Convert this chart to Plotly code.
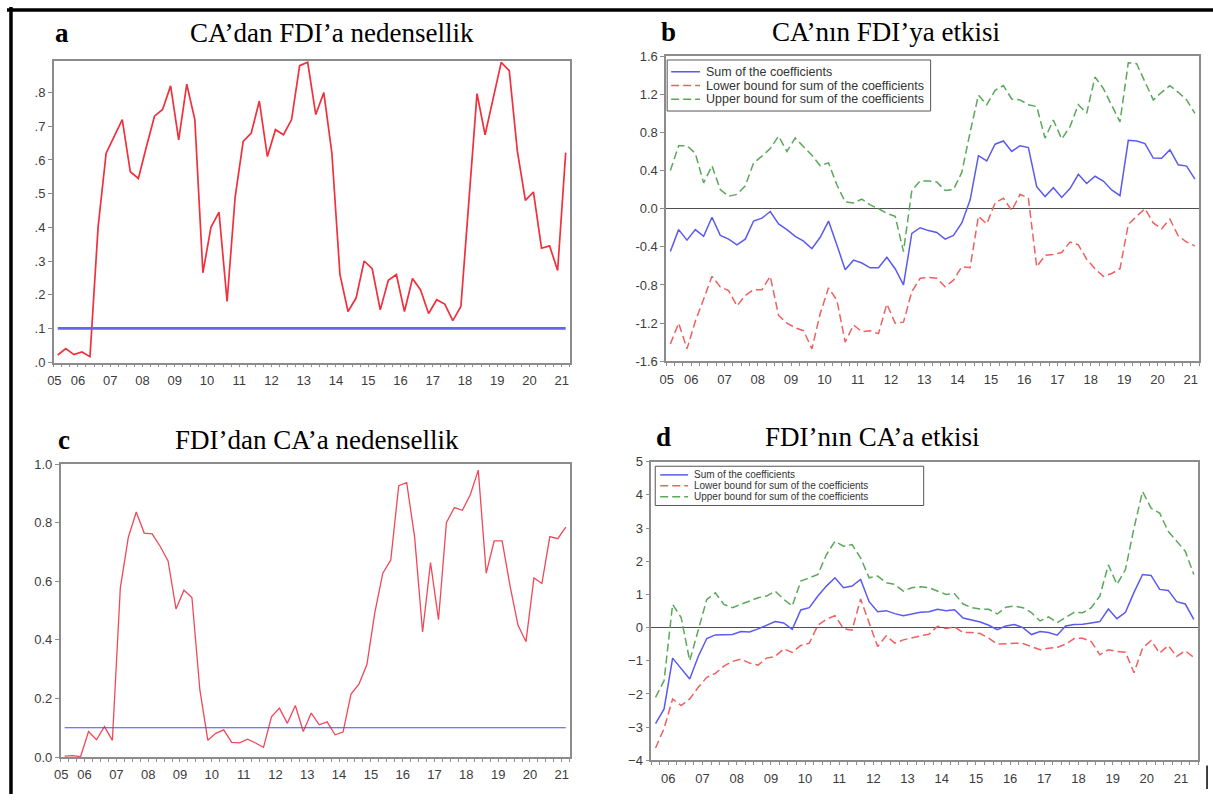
import plotly.graph_objects as go

W, H = 1213, 802

# ---------------- data ----------------
# quarterly periods: panels a, b, c cover 2005Q4-2021Q3, panel d covers 2006Q1-2021Q4
periods_abc = [f"{y}Q{q}" for y in range(2005, 2022) for q in range(1, 5)][3:67]
periods_d = [f"{y}Q{q}" for y in range(2006, 2022) for q in range(1, 5)]

# a: p-values, causality CA -> FDI
pval_ca_fdi = [0.021, 0.040, 0.022, 0.030, 0.016, 0.40, 0.62, 0.67, 0.72, 0.565,
               0.545, 0.64, 0.73, 0.75, 0.82, 0.66, 0.825, 0.72, 0.265, 0.40,
               0.445, 0.18, 0.49, 0.655, 0.68, 0.775, 0.61, 0.69, 0.675, 0.72,
               0.88, 0.89, 0.735, 0.80, 0.62, 0.26, 0.15, 0.19, 0.30, 0.277,
               0.155, 0.243, 0.26, 0.15, 0.248, 0.214, 0.144, 0.185, 0.172, 0.123,
               0.165, 0.48, 0.797, 0.675, 0.782, 0.89, 0.865, 0.627, 0.48, 0.505,
               0.338, 0.345, 0.272, 0.622]

# c: p-values, causality FDI -> CA
pval_fdi_ca = [0.003, 0.005, 0.001, 0.087, 0.059, 0.104, 0.057, 0.578, 0.75, 0.837,
               0.765, 0.762, 0.72, 0.67, 0.506, 0.57, 0.545, 0.229, 0.057, 0.081,
               0.093, 0.05, 0.048, 0.061, 0.048, 0.033, 0.137, 0.167, 0.115, 0.176,
               0.087, 0.15, 0.11, 0.12, 0.076, 0.085, 0.215, 0.249, 0.316, 0.494,
               0.628, 0.673, 0.927, 0.937, 0.751, 0.427, 0.664, 0.469, 0.801, 0.852,
               0.843, 0.896, 0.98, 0.628, 0.738, 0.738, 0.584, 0.45, 0.394, 0.612,
               0.593, 0.753, 0.746, 0.785]

significance = 0.1

# b: effect of CA on FDI
sum_b = [-0.45, -0.22, -0.33, -0.22, -0.29, -0.09, -0.28, -0.32, -0.38, -0.32,
         -0.13, -0.10, -0.03, -0.16, -0.22, -0.29, -0.34, -0.42, -0.30, -0.13,
         -0.38, -0.64, -0.54, -0.57, -0.62, -0.62, -0.51, -0.63, -0.80, -0.26,
         -0.20, -0.23, -0.25, -0.32, -0.28, -0.15, 0.09, 0.556, 0.50, 0.676,
         0.71, 0.60, 0.66, 0.64, 0.23, 0.127, 0.22, 0.117, 0.21, 0.36,
         0.264, 0.34, 0.29, 0.196, 0.137, 0.717, 0.71, 0.683, 0.53, 0.528,
         0.617, 0.46, 0.446, 0.31]
lower_b = [-1.42, -1.20, -1.47, -1.18, -0.95, -0.71, -0.82, -0.86, -1.02, -0.91,
           -0.85, -0.85, -0.71, -1.12, -1.20, -1.25, -1.28, -1.47, -1.10, -0.83,
           -0.96, -1.40, -1.22, -1.29, -1.28, -1.31, -1.00, -1.20, -1.19, -0.87,
           -0.73, -0.72, -0.73, -0.82, -0.75, -0.61, -0.62, -0.08, -0.16, 0.06,
           0.11, -0.02, 0.15, 0.11, -0.61, -0.49, -0.48, -0.46, -0.35, -0.38,
           -0.53, -0.63, -0.71, -0.68, -0.63, -0.165, -0.08, 0.0, -0.15, -0.21,
           -0.11, -0.285, -0.35, -0.39]
upper_b = [0.40, 0.66, 0.66, 0.58, 0.27, 0.45, 0.20, 0.13, 0.15, 0.24,
           0.48, 0.55, 0.63, 0.76, 0.60, 0.74, 0.65, 0.56, 0.45, 0.48,
           0.25, 0.07, 0.06, 0.10, 0.04, 0.0, -0.05, -0.08, -0.45, 0.19,
           0.29, 0.29, 0.28, 0.19, 0.20, 0.38, 0.80, 1.19, 1.09, 1.24,
           1.29, 1.15, 1.14, 1.09, 1.07, 0.74, 0.93, 0.73, 0.86, 1.09,
           1.0, 1.38, 1.26, 1.09, 0.91, 1.53, 1.52, 1.33, 1.14, 1.22,
           1.29, 1.22, 1.14, 1.0]

# d: effect of FDI on CA
sum_d = [-2.89, -2.45, -0.92, -1.23, -1.55, -0.87, -0.33, -0.22, -0.21, -0.21,
         -0.12, -0.13, -0.04, 0.08, 0.18, 0.14, -0.05, 0.53, 0.60, 0.95,
         1.25, 1.50, 1.20, 1.25, 1.45, 0.78, 0.48, 0.51, 0.42, 0.36,
         0.42, 0.46, 0.48, 0.55, 0.51, 0.54, 0.29, 0.24, 0.17, 0.07,
         -0.06, 0.05, 0.09, 0.0, -0.21, -0.12, -0.15, -0.23, 0.05, 0.09,
         0.10, 0.14, 0.18, 0.56, 0.27, 0.46, 1.06, 1.60, 1.57, 1.15,
         1.12, 0.78, 0.71, 0.25]
lower_d = [-3.63, -3.04, -2.15, -2.35, -2.15, -1.80, -1.50, -1.38, -1.16, -1.02,
           -0.95, -1.07, -1.13, -0.92, -0.87, -0.64, -0.75, -0.54, -0.47, 0.07,
           0.25, 0.36, -0.03, -0.08, 0.86, 0.17, -0.57, -0.25, -0.47, -0.37,
           -0.30, -0.25, -0.20, 0.04, -0.03, 0.02, -0.15, -0.15, -0.18, -0.32,
           -0.50, -0.48, -0.47, -0.48, -0.57, -0.67, -0.62, -0.60, -0.50, -0.33,
           -0.32, -0.42, -0.82, -0.67, -0.72, -0.74, -1.36, -0.62, -0.39, -0.77,
           -0.54, -0.87, -0.70, -0.90]
upper_d = [-2.10, -1.60, 0.70, 0.30, -1.00, -0.10, 0.85, 1.05, 0.70, 0.60,
           0.70, 0.80, 0.90, 0.95, 1.10, 0.85, 0.65, 1.40, 1.50, 1.60,
           2.20, 2.60, 2.45, 2.50, 2.10, 1.50, 1.55, 1.35, 1.30, 1.10,
           1.20, 1.23, 1.20, 1.10, 1.00, 1.02, 0.71, 0.60, 0.56, 0.55,
           0.41, 0.61, 0.65, 0.60, 0.45, 0.20, 0.32, 0.15, 0.30, 0.46,
           0.45, 0.60, 0.95, 1.89, 1.30, 1.75, 3.00, 4.10, 3.60, 3.45,
           2.90, 2.60, 2.30, 1.60]

year_labels_abc = ["05", "06", "07", "08", "09", "10", "11", "12", "13",
                   "14", "15", "16", "17", "18", "19", "20", "21"]
year_labels_d = ["06", "07", "08", "09", "10", "11", "12", "13",
                 "14", "15", "16", "17", "18", "19", "20", "21"]

legend_names = ["Sum of the coefficients",
                "Lower bound for sum of the coefficients",
                "Upper bound for sum of the coefficients"]


def qpos(p):
    y, q = p.split("Q")
    return int(y) + (int(q) - 0.5) / 4


x_abc = [qpos(p) for p in periods_abc]
x_d = [qpos(p) for p in periods_d]

# tick label positions (middle of each year, first label at visible start)
tick_abc = [2005.77] + [int("20" + t) + 0.5 for t in year_labels_abc[1:]]
tick_d = [int("20" + t) + 0.5 for t in year_labels_d]

# ---------------- styling ----------------
FRAME = "#8c8c8c"
SANS = "Liberation Sans, Arial, sans-serif"
TICKFONT = dict(family=SANS, size=13, color="#3c3c3c")
RED = "#f0303c"
BLUE_SUM = "#5a5af0"
RED_D = "#f06060"
GREEN_D = "#5aa85a"
DASH = "8px,4px"
series_styles = [(BLUE_SUM, "solid"), (RED_D, DASH), (GREEN_D, DASH)]


def dom_x(p0, p1):
    return [p0 / W, p1 / W]


def dom_y(top, bottom):
    return [1 - bottom / H, 1 - top / H]


def xax(domain, rng, tickvals, ticktext, anchor, tick0):
    return dict(domain=domain, range=rng, anchor=anchor, showgrid=False, zeroline=False,
                showline=True, linecolor=FRAME, linewidth=1.5, mirror=True,
                tickmode="array", tickvals=tickvals, ticktext=ticktext,
                ticks="outside", ticklen=5, tickcolor="rgba(0,0,0,0)",
                tickfont=TICKFONT,
                minor=dict(tickmode="linear", tick0=tick0, dtick=0.25, ticks="outside",
                           ticklen=3, tickcolor=FRAME, tickwidth=1, showgrid=False))


def yax(domain, rng, anchor, tickvals, ticktext=None, zeroline=False):
    d = dict(domain=domain, range=rng, anchor=anchor, showgrid=False,
             zeroline=zeroline, zerolinecolor="#505050", zerolinewidth=1.2,
             showline=True, linecolor=FRAME, linewidth=1.5, mirror=True,
             tickmode="array", tickvals=tickvals,
             ticks="outside", ticklen=4, tickcolor=FRAME, tickwidth=1,
             tickfont=TICKFONT)
    if ticktext is not None:
        d["ticktext"] = ticktext
    return d


fig = go.Figure()

# panel a
fig.add_trace(go.Scatter(x=x_abc, y=pval_ca_fdi, mode="lines", line=dict(color=RED, width=1.7),
                         xaxis="x", yaxis="y", showlegend=False))
fig.add_trace(go.Scatter(x=x_abc, y=[significance] * len(x_abc), mode="lines",
                         line=dict(color="#6464f0", width=2.6), xaxis="x", yaxis="y", showlegend=False))
# panel c
fig.add_trace(go.Scatter(x=x_abc, y=pval_fdi_ca, mode="lines", line=dict(color="#f04858", width=1.3),
                         xaxis="x3", yaxis="y3", showlegend=False))
fig.add_trace(go.Scatter(x=x_abc, y=[significance] * len(x_abc), mode="lines",
                         line=dict(color="#4848f5", width=1.1), xaxis="x3", yaxis="y3", showlegend=False))

# panel b
for ys, (col, dash), name in zip([sum_b, lower_b, upper_b], series_styles, legend_names):
    fig.add_trace(go.Scatter(x=x_abc, y=ys, mode="lines", name=name,
                             line=dict(color=col, width=1.5, dash=dash),
                             xaxis="x2", yaxis="y2", showlegend=False))
# panel d
for ys, (col, dash), name in zip([sum_d, lower_d, upper_d], series_styles, legend_names):
    fig.add_trace(go.Scatter(x=x_d, y=ys, mode="lines", name=name,
                             line=dict(color=col, width=1.5, dash=dash),
                             xaxis="x4", yaxis="y4", showlegend=False))

fig.update_layout(
    width=W, height=H, margin=dict(l=0, r=0, t=0, b=0),
    paper_bgcolor="white", plot_bgcolor="white", showlegend=False,
    xaxis=xax(dom_x(47, 566), [2005.75, 2021.75], tick_abc, year_labels_abc, "y", 2005.75),
    yaxis=yax(dom_y(55, 362.5), [-0.002, 0.894], "x", [0, .1, .2, .3, .4, .5, .6, .7, .8],
              [".0", ".1", ".2", ".3", ".4", ".5", ".6", ".7", ".8"]),
    xaxis2=xax(dom_x(663, 1199), [2005.75, 2021.75], tick_abc, year_labels_abc, "y2", 2005.75),
    yaxis2=yax(dom_y(50, 361), [-1.6, 1.6], "x2", [-1.6, -1.2, -0.8, -0.4, 0, 0.4, 0.8, 1.2, 1.6],
               ["-1.6", "-1.2", "-0.8", "-0.4", "0.0", "0.4", "0.8", "1.2", "1.6"], zeroline=True),
    xaxis3=xax(dom_x(54, 566), [2005.75, 2021.75], tick_abc, year_labels_abc, "y3", 2005.75),
    yaxis3=yax(dom_y(466, 764.3), [0, 1.0], "x3", [0, 0.2, 0.4, 0.6, 0.8, 1.0],
               ["0.0", "0.2", "0.4", "0.6", "0.8", "1.0"]),
    xaxis4=xax(dom_x(648, 1198), [2006, 2022], tick_d, year_labels_d, "y4", 2006),
    yaxis4=yax(dom_y(463.3, 767.7), [-4, 5], "x4", [-4, -3, -2, -1, 0, 1, 2, 3, 4, 5],
               zeroline=True),
)


# legend boxes drawn inside panels b and d (box, sample lines, texts)
def px_x(v):
    return v / W


def px_y(v):
    return 1 - v / H


def add_legend(box, rows, sample_x, text_x, font_size):
    x0, y0, x1, y1 = box
    fig.add_shape(type="rect", xref="paper", yref="paper",
                  x0=px_x(x0), x1=px_x(x1), y0=px_y(y1), y1=px_y(y0),
                  line=dict(color="#555555", width=1), fillcolor="white", layer="above")
    for ry, name, (col, dash) in zip(rows, legend_names, series_styles):
        fig.add_shape(type="line", xref="paper", yref="paper",
                      x0=px_x(sample_x[0]), x1=px_x(sample_x[1]), y0=px_y(ry), y1=px_y(ry),
                      line=dict(color=col, width=1.5, dash=dash), layer="above")
        fig.add_annotation(text=name, xref="paper", yref="paper", x=px_x(text_x), y=px_y(ry),
                           xanchor="left", yanchor="middle", showarrow=False,
                           font=dict(family=SANS, size=font_size, color="#333333"))


add_legend((664, 54, 929, 106), [66, 80, 94], (668, 697), 701, 12.5)
add_legend((652, 468, 922, 508), [476.8, 488, 499.2], (657, 685), 689, 10)

# titles
serif = "Liberation Serif, Times New Roman, serif"
titles = [("<b>a</b>", 55, 27), ("CA’dan FDI’a nedensellik", 327, 27),
          ("<b>b</b>", 665, 25), ("CA’nın FDI’ya etkisi", 884, 25),
          ("<b>c</b>", 57, 441), ("FDI’dan CA’a nedensellik", 312, 441),
          ("<b>d</b>", 660, 438), ("FDI’nın CA’a etkisi", 870, 438)]
for txt, px, py in titles:
    fig.add_annotation(text=txt, xref="paper", yref="paper", x=px / W, y=1 - py / H,
                       xanchor="center", yanchor="middle", showarrow=False,
                       font=dict(family=serif, size=27, color="black"))

# outer black border (top and left) and small bar at bottom right
fig.add_shape(type="line", xref="paper", yref="paper", x0=0, x1=1, y0=1 - 3 / H, y1=1 - 3 / H,
              line=dict(color="black", width=3.5))
fig.add_shape(type="line", xref="paper", yref="paper", x0=4 / W, x1=4 / W, y0=0, y1=1,
              line=dict(color="black", width=3.5))
fig.add_shape(type="line", xref="paper", yref="paper", x0=1207 / W, x1=1207 / W,
              y0=1 - 797 / H, y1=1 - 773 / H, line=dict(color="black", width=1.5))

fig.write_html("out.html", config={"displayModeBar": False},
               post_script="document.body.style.margin='0px';")
